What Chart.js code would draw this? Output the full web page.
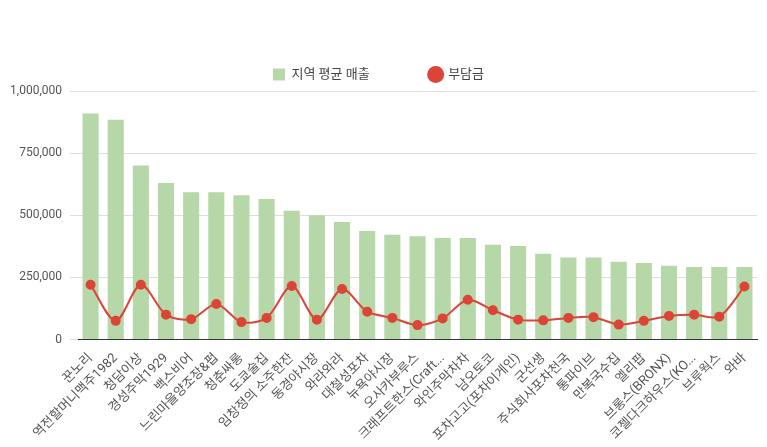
<!DOCTYPE html>
<html><head><meta charset="utf-8">
<script src="https://cdn.jsdelivr.net/npm/chart.js@4"></script>
<style>body{margin:0;background:#fff}#w{width:767px;height:447px}</style>
</head><body><div id="w"><canvas id="c"></canvas></div>
<script>
const categories=["꾼노리","역전할머니맥주1982","청담이상","경성주막1929","백스비어","느린마을양조장&펍","청춘싸롱","도쿄술집","임창정의 소주한잔","동경야시장","와라와라","대철성포차","뉴욕야시장","오사카부루스","크래프트한스(Craft...","와인주막차차","남오토코","포차고고(포차이게인)","군선생","주식회사포차천국","통파이브","만복국수집","엘리팝","브롱스(BRONX)","코젤다크하우스(KO...","브루웍스","와바"];
const avgSales=[909000,884000,700000,630000,593000,593000,580000,565000,518000,500000,473000,437000,422000,416000,408000,408000,381000,376000,345000,330000,330000,313000,308000,297000,292000,292000,292000];
const fee=[220000,75000,220000,100000,82000,143000,70000,87000,215000,80000,203000,112000,87000,58000,85000,160000,118000,80000,77000,87000,90000,60000,75000,95000,100000,92000,213000];
const yTicks=[0,250000,500000,750000,1000000];
Chart.defaults.font.family="Roboto, 'Noto Sans CJK KR', sans-serif";
new Chart(document.getElementById('c'),{
 data:{labels:categories,datasets:[
  {type:'line',label:'부담금',data:fee,borderColor:'#db4437',backgroundColor:'#db4437',pointRadius:4,pointHoverRadius:4,borderWidth:2,tension:0.3,order:0},
  {type:'bar',label:'지역 평균 매출',data:avgSales,backgroundColor:'#b6d7a8',categoryPercentage:0.8,barPercentage:0.8,order:1}
 ]},
 options:{responsive:true,maintainAspectRatio:false,animation:false,
  layout:{padding:{right:10,top:8}},
  plugins:{legend:{position:'top',reverse:true,labels:{usePointStyle:true,color:'#444',font:{size:13},boxWidth:12,boxHeight:12,padding:60,
    generateLabels(ch){return ch.data.datasets.map((d,i)=>({text:d.label,fillStyle:d.backgroundColor,strokeStyle:d.backgroundColor,lineWidth:0,pointStyle:d.type==='bar'?'rect':'circle',datasetIndex:i,fontColor:'#444'}));}}},tooltip:{enabled:false}},
  scales:{
   x:{grid:{display:false},border:{color:'#333'},ticks:{color:'#555',font:{size:13},maxRotation:45,minRotation:45,autoSkip:false}},
   y:{min:0,max:1000000,afterBuildTicks(a){a.ticks=yTicks.map(v=>({value:v}));},afterFit(a){a.width=78;},border:{display:false},grid:{color:'#ddd'},ticks:{color:'#555',font:{size:12},padding:8,callback:v=>v.toLocaleString('en-US')}}
  }}
});
</script></body></html>
